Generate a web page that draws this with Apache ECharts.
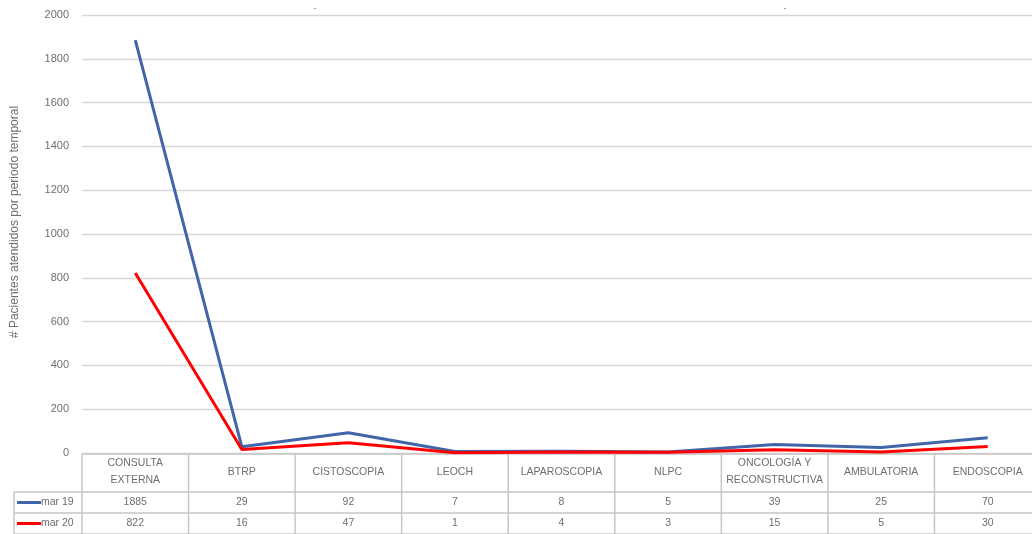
<!DOCTYPE html>
<html>
<head>
<meta charset="utf-8">
<script src="https://cdn.jsdelivr.net/npm/echarts@6/dist/echarts.min.js"></script>
<style>
  html, body { margin: 0; padding: 0; background: #fff; }
  #chart { width: 1032px; height: 534px; }
</style>
</head>
<body>
<div id="chart"></div>
<script>
const categories = ['CONSULTA\nEXTERNA', 'BTRP', 'CISTOSCOPIA', 'LEOCH', 'LAPAROSCOPIA', 'NLPC', 'ONCOLOGÍA Y\nRECONSTRUCTIVA', 'AMBULATORIA', 'ENDOSCOPIA']
const mar19 = [1885, 29, 92, 7, 8, 5, 39, 25, 70]
const mar20 = [822, 16, 47, 1, 4, 3, 15, 5, 30]
const seriesNames = ['mar 19', 'mar 20']
const seriesColors = ['#4065a8', '#ff0000']
const yMin = 0
const yMax = 2000
const yStep = 200
const yTitle = '# Pacientes atendidos por periodo temporal'

const font = 'Liberation Sans, Arial, sans-serif'
const textColor = '#6e6e6e'
const borderColor = '#c6c6c6'

const chart = echarts.init(document.getElementById('chart'))

chart.setOption({
  animation: false,
  grid: { left: 82, top: 15, width: 959, height: 438, outerBoundsMode: 'none', containLabel: false },
  xAxis: {
    type: 'category',
    data: categories,
    boundaryGap: true,
    axisLine: { show: false },
    axisTick: { show: false },
    axisLabel: {
      interval: 0,
      margin: 19,
      verticalAlign: 'middle',
      lineHeight: 17,
      fontSize: 10.5,
      fontFamily: font,
      color: textColor,
    },
  },
  yAxis: {
    type: 'value',
    min: yMin,
    max: yMax,
    interval: yStep,
    name: yTitle,
    nameLocation: 'middle',
    nameRotate: 90,
    nameGap: 61,
    nameTextStyle: { fontSize: 12, fontFamily: font, color: textColor, padding: [0, 0, 0, 24] },
    axisLine: { show: false },
    axisTick: { show: false },
    axisLabel: { margin: 13, fontSize: 11, fontFamily: font, color: textColor, formatter: v => String(v) },
    splitLine: { lineStyle: { color: '#d6d6d6', width: 1.3 } },
  },
  series: [
    {
      name: seriesNames[0],
      type: 'line',
      data: mar19,
      symbol: 'none',
      lineStyle: { color: seriesColors[0], width: 3 },
      z: 3,
    },
    {
      name: seriesNames[1],
      type: 'line',
      data: mar20,
      symbol: 'none',
      lineStyle: { color: seriesColors[1], width: 3 },
      z: 4,
    },
  ],
})

// data table under the axis
const c0 = chart.convertToPixel({ xAxisIndex: 0 }, 0)
const c1 = chart.convertToPixel({ xAxisIndex: 0 }, 1)
const band = c1 - c0
const left = c0 - band / 2
const right = left + band * categories.length
const zeroY = chart.convertToPixel({ yAxisIndex: 0 }, yMin)
const rowTop = zeroY + 1
const rowHead = rowTop + 38
const rowH = 21
const keyLeft = 14

const elements = []
const line = (x1, y1, x2, y2) => elements.push({
  type: 'line',
  shape: { x1, y1, x2, y2 },
  style: { stroke: borderColor, lineWidth: 1.5 },
  silent: true,
})

line(left, rowTop, right, rowTop)
line(keyLeft, rowHead, right, rowHead)
line(keyLeft, rowHead + rowH, right, rowHead + rowH)
line(keyLeft, rowHead + rowH * 2, right, rowHead + rowH * 2)
line(keyLeft, rowHead, keyLeft, rowHead + rowH * 2)
for (let i = 0; i <= categories.length; i++) {
  const x = left + band * i
  line(x, rowTop, x, rowHead + rowH * 2)
}

const rows = [mar19, mar20]
rows.forEach((vals, r) => {
  const cy = rowHead + rowH * r + rowH / 2
  elements.push({
    type: 'line',
    shape: { x1: keyLeft + 3, y1: cy, x2: keyLeft + 27, y2: cy },
    style: { stroke: seriesColors[r], lineWidth: 3 },
    silent: true,
  })
  elements.push({
    type: 'text',
    x: keyLeft + 27,
    y: cy,
    style: { text: seriesNames[r], fontSize: 10.5, fontFamily: font, fill: textColor, verticalAlign: 'middle', align: 'left' },
    silent: true,
  })
  vals.forEach((v, i) => {
    elements.push({
      type: 'text',
      x: chart.convertToPixel({ xAxisIndex: 0 }, i),
      y: cy,
      style: { text: String(v), fontSize: 10.5, fontFamily: font, fill: textColor, verticalAlign: 'middle', align: 'center' },
      silent: true,
    })
  })
})

// the two tiny dashes at the top of the original
elements.push({ type: 'text', x: 315, y: 8, style: { text: '-', fontSize: 8, fontFamily: font, fill: '#44546a', align: 'center', verticalAlign: 'middle' }, silent: true })
elements.push({ type: 'text', x: 785, y: 8, style: { text: '-', fontSize: 8, fontFamily: font, fill: '#44546a', align: 'center', verticalAlign: 'middle' }, silent: true })

chart.setOption({ graphic: { elements } })
</script>
</body>
</html>
